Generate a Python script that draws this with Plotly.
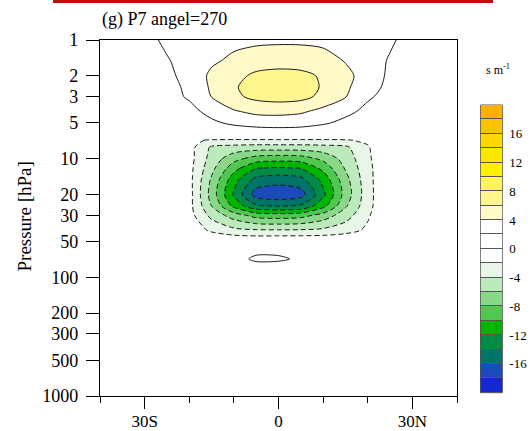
import plotly.graph_objects as go

# ---------------- data ----------------
LATS = [-40, -35, -30, -25, -20, -15, -10, -5, 0, 5, 10, 15, 20, 25, 30, 35, 40]
PRESSURE = [1, 1.5, 2, 2.5, 3, 4, 5, 6, 7, 8, 10, 12, 15, 20, 25, 30, 40, 50, 70, 85, 100, 300, 1000]

# field values (s m^-1), one row per pressure level
FIELD = [
    [0.6, 0.9, 1.2, 2.5, 3.0, 3.3, 3.5, 3.6, 3.6, 3.6, 3.5, 3.3, 3.0, 2.3, 1.2, 0.9, 0.6],          # 1
    [0.6, 0.9, 1.3, 1.8, 3.0, 3.7, 4.4, 5.0, 5.4, 5.3, 4.8, 3.9, 3.0, 1.8, 1.2, 0.9, 0.6],          # 1.5
    [0.6, 0.9, 1.3, 1.6, 2.6, 4.4, 5.4, 6.4, 6.5, 6.4, 5.8, 4.5, 3.2, 1.6, 1.2, 0.9, 0.6],          # 2
    [0.6, 0.9, 1.2, 1.5, 2.3, 4.3, 5.8, 6.8, 7.0, 6.9, 5.8, 4.4, 2.6, 1.6, 1.1, 0.9, 0.6],          # 2.5
    [0.6, 0.8, 1.1, 1.4, 2.2, 4.05, 5.6, 6.5, 6.8, 6.6, 5.5, 4.1, 2.2, 1.5, 1.0, 0.8, 0.6],         # 3
    [0.6, 0.7, 0.9, 1.2, 1.5, 2.5, 3.8, 4.5, 4.6, 4.3, 3.4, 2.4, 1.6, 1.1, 0.9, 0.7, 0.6],          # 4
    [0.5, 0.6, 0.7, 0.9, 1.2, 1.7, 2.3, 2.7, 2.8, 2.7, 2.2, 1.6, 1.1, 0.9, 0.7, 0.6, 0.5],          # 5
    [0.4, 0.5, 0.5, 0.6, 0.7, 0.8, 1.0, 1.1, 1.2, 1.1, 1.0, 0.8, 0.7, 0.6, 0.5, 0.5, 0.4],          # 6
    [0.3, 0.3, 0.3, 0.2, -1.6, -2.2, -2.3, -2.3, -2.3, -2.3, -2.3, -2.2, -1.6, 0.2, 0.3, 0.3, 0.3],  # 7
    [0.3, 0.3, 0.3, 0.1, -1.2, -4.3, -4.7, -4.9, -4.9, -4.9, -4.7, -4.4, -2.2, 0.1, 0.3, 0.3, 0.3],  # 8
    [0.3, 0.3, 0.3, 0.1, -1.2, -4.8, -7.3, -8.9, -9.2, -9.0, -7.5, -5.2, -2.4, 0.1, 0.3, 0.3, 0.3],  # 10
    [0.3, 0.3, 0.3, 0.1, -1.3, -5.4, -9.2, -11.9, -12.2, -11.9, -9.4, -5.8, -2.6, 0.1, 0.3, 0.3, 0.3],   # 12
    [0.3, 0.3, 0.3, 0.2, -1.3, -6.3, -11.2, -14.6, -15.1, -14.6, -11.4, -6.7, -2.7, 0.2, 0.3, 0.3, 0.3],  # 15
    [0.3, 0.3, 0.3, 0.3, -1.2, -6.8, -12.3, -16.9, -17.5, -16.9, -12.5, -7.2, -2.8, 0.3, 0.3, 0.3, 0.3],  # 20
    [0.3, 0.3, 0.3, 0.3, -1.3, -6.0, -10.6, -13.7, -14.2, -13.7, -10.7, -6.3, -2.7, 0.3, 0.3, 0.3, 0.3],  # 25
    [0.3, 0.3, 0.3, 0.3, -1.2, -4.6, -7.0, -8.8, -9.1, -8.8, -7.2, -4.9, -2.3, 0.3, 0.3, 0.3, 0.3],      # 30
    [0.3, 0.3, 0.3, 0.3, -0.6, -2.4, -3.5, -3.85, -3.9, -3.85, -3.6, -2.9, -1.6, 0.3, 0.3, 0.3, 0.3],   # 40
    [0.3, 0.3, 0.3, 0.3, 0.2, 0.05, -0.1, -0.2, -0.1, -0.1, -0.1, 0.05, 0.2, 0.3, 0.3, 0.3, 0.3],       # 50
    [0.3, 0.3, 0.3, 0.3, 0.3, 0.3, 0.8, 2.6, 2.5, 1.5, 0.5, 0.3, 0.3, 0.3, 0.3, 0.3, 0.3],              # 70
    [0.3, 0.3, 0.3, 0.3, 0.3, 0.3, 0.3, 0.3, 0.3, 0.3, 0.3, 0.3, 0.3, 0.3, 0.3, 0.3, 0.3],              # 85
    [0.3, 0.3, 0.3, 0.3, 0.3, 0.3, 0.3, 0.3, 0.3, 0.3, 0.3, 0.3, 0.3, 0.3, 0.3, 0.3, 0.3],              # 100
    [0.2, 0.2, 0.2, 0.2, 0.2, 0.2, 0.2, 0.2, 0.2, 0.2, 0.2, 0.2, 0.2, 0.2, 0.2, 0.2, 0.2],              # 300
    [0.2, 0.2, 0.2, 0.2, 0.2, 0.2, 0.2, 0.2, 0.2, 0.2, 0.2, 0.2, 0.2, 0.2, 0.2, 0.2, 0.2],              # 1000
]

LEVEL_START, LEVEL_END, LEVEL_STEP = -18, 18, 2

# one colour per band, lowest (< -18) to highest (> 18)
BAND_COLORS = [
    '#1428D2', '#1A4BB8', '#007468', '#008C46', '#00B400', '#50C850',
    '#88D888', '#BCEABC', '#E8F6E8', '#FFFFFF', '#FFFFFF', '#FFFFFF',
    '#FFFAC8', '#FFF68E', '#FFF45C', '#FFF000', '#FFE600', '#FFD700',
    '#FFC200', '#FFB000',
]

CB_TICKS = [-16, -12, -8, -4, 0, 4, 8, 12, 16]
CB_TICKTEXT = ['-16', '-12', '-8', '-4', '0', '4', '8', '12', '16']
P_TICKS = [1, 2, 3, 5, 10, 20, 30, 50, 100, 200, 300, 500, 1000]
P_TICKTEXT = ['1', '2', '3', '5', '10', '20', '30', '50', '100', '200', '300', '500', '1000']
LAT_TICKS = [-30, 0, 30]
LAT_TICKTEXT = ['30S', '0', '30N']

TITLE = '(g) P7 angel=270'
YTITLE = 'Pressure [hPa]'
UNITS = 's m<sup>-1</sup>'

# ---------------- figure ----------------
FONT = 'Liberation Serif, Times New Roman, serif'
n = len(BAND_COLORS)
cscale = []
for k, c in enumerate(BAND_COLORS):
    cscale.append([k / n, c])
    cscale.append([(k + 1) / n, c])

fig = go.Figure()

fig.add_trace(go.Contour(
    x=LATS, y=PRESSURE, z=FIELD, colorscale=cscale, showscale=False,
    contours=dict(start=LEVEL_START, end=LEVEL_END, size=LEVEL_STEP,
                  coloring='fill', showlines=False),
    line=dict(width=0, smoothing=0.8), hoverinfo='skip'))

fig.add_trace(go.Contour(
    x=LATS, y=PRESSURE, z=FIELD, showscale=False,
    contours=dict(start=LEVEL_START, end=-LEVEL_STEP, size=LEVEL_STEP, coloring='none'),
    line=dict(color='#1a1a1a', width=1, dash='5px,3px', smoothing=0.8), hoverinfo='skip'))

fig.add_trace(go.Contour(
    x=LATS, y=PRESSURE, z=FIELD, showscale=False,
    contours=dict(start=LEVEL_STEP, end=LEVEL_END, size=LEVEL_STEP, coloring='none'),
    line=dict(color='#1a1a1a', width=1, smoothing=0.8), hoverinfo='skip'))

# label bar drawn as its own small heatmap
mids = [LEVEL_START - LEVEL_STEP / 2 + LEVEL_STEP * k for k in range(n)]
fig.add_trace(go.Heatmap(
    x=[0], y=mids, z=[[m] for m in mids], colorscale=cscale,
    zmin=LEVEL_START - LEVEL_STEP, zmax=LEVEL_END + LEVEL_STEP,
    showscale=False, ygap=1, xaxis='x2', yaxis='y2', hoverinfo='skip'))

W, H = 530, 431
ML, MR, MT, MB = 100, 20, 40, 35
pw, ph = W - ML - MR, H - MT - MB


def px_x(x):
    return (x - ML) / pw


def px_y(y):
    return (H - MB - y) / ph


axis_common = dict(showgrid=False, zeroline=False, showline=True, linecolor='black',
                   linewidth=1.2, mirror=True, ticks='outside', tickcolor='black',
                   tickwidth=1.2, automargin=False)

fig.update_layout(
    width=W, height=H,
    margin=dict(l=ML, r=MR, t=MT, b=MB, autoexpand=False),
    paper_bgcolor='white', plot_bgcolor='white',
    showlegend=False,
    xaxis=dict(domain=[0, px_x(457)], range=[-40, 40], tickmode='array',
               tickvals=LAT_TICKS, ticktext=LAT_TICKTEXT, ticklen=12,
               ticklabelstandoff=-3,
               tickfont=dict(family=FONT, size=17, color='black'),
               minor=dict(tickmode='linear', tick0=0, dtick=10, ticks='outside',
                          ticklen=6, tickcolor='black', tickwidth=1, showgrid=False),
               **axis_common),
    yaxis=dict(type='log', range=[3, 0], tickmode='array', tickvals=P_TICKS,
               ticktext=P_TICKTEXT, ticklen=13, ticklabelstandoff=4,
               tickfont=dict(family=FONT, size=18, color='black'), **axis_common),
    xaxis2=dict(domain=[px_x(480.5), px_x(502.3)], anchor='y2', range=[-0.5, 0.5],
                visible=False, automargin=False),
    yaxis2=dict(domain=[px_y(392.7), px_y(105)], anchor='x2', range=[-20, 20],
                side='right', tickmode='array', tickvals=CB_TICKS, ticktext=CB_TICKTEXT,
                ticks='', showgrid=False, zeroline=False, showline=False,
                ticklabelstandoff=6, automargin=False,
                tickfont=dict(family=FONT, size=13, color='black')),
    shapes=[
        dict(type='rect', xref='x2 domain', yref='y2 domain', x0=0, x1=1, y0=0, y1=1,
             fillcolor='#555555', line=dict(color='#555555', width=1), layer='below'),
        dict(type='rect', xref='paper', yref='paper', x0=px_x(53), x1=px_x(493),
             y0=px_y(3), y1=px_y(-2), fillcolor='#c40c0c', line=dict(width=0)),
    ],
    annotations=[
        dict(text=TITLE, xref='paper', yref='paper', x=0, y=px_y(19.5),
             xanchor='left', yanchor='middle', showarrow=False,
             font=dict(family=FONT, size=18, color='black')),
        dict(text=YTITLE, xref='paper', yref='paper', x=px_x(24), y=px_y(216.5),
             xanchor='center', yanchor='middle', textangle=-90, showarrow=False,
             font=dict(family=FONT, size=19, color='black')),
        dict(text=UNITS, xref='paper', yref='paper', x=px_x(498), y=px_y(69),
             xanchor='center', yanchor='middle', showarrow=False,
             font=dict(family=FONT, size=12, color='black')),
    ],
)

fig.write_html('out.html')
